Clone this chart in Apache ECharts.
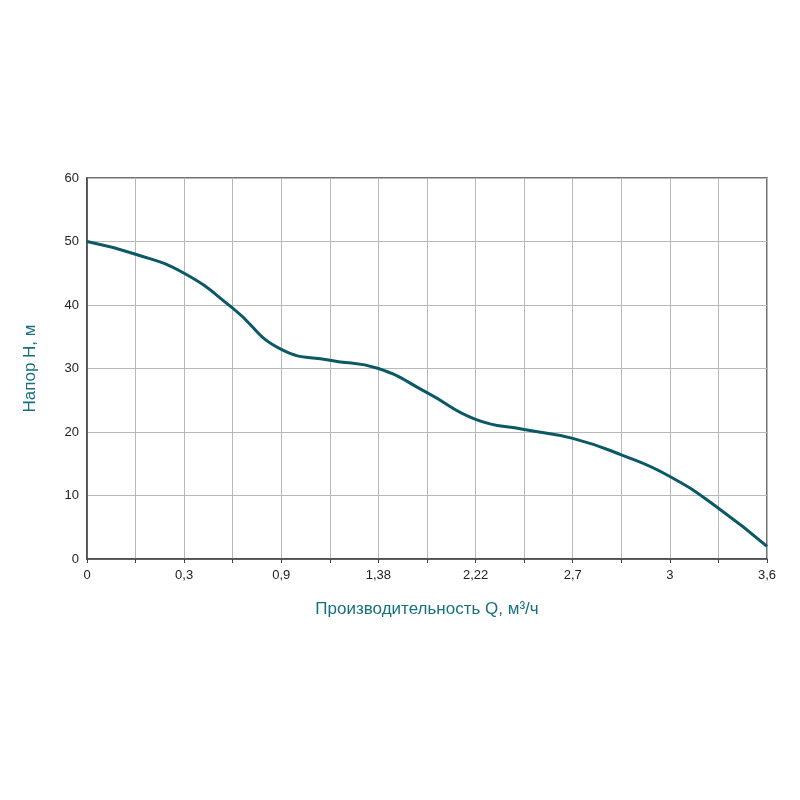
<!DOCTYPE html>
<html>
<head>
    <meta charset="utf-8">
    <title>ECharts</title>
    <script src="https://cdn.jsdelivr.net/npm/echarts@6/dist/echarts.min.js"></script>
</head>
<body style="margin:0">
    <div id="main" style="width:800px;height:800px;"></div>
    <script type="text/javascript">
        var myChart = echarts.init(document.getElementById('main'));

        // x positions are evenly spaced; labels shown on every second grid line
        var xLabels = ['0', '', '0,3', '', '0,9', '', '1,38', '', '2,22', '', '2,7', '', '3', '', '3,6'];
        var headValues = [50, 48, 45, 39.5, 33, 31.3, 30, 26.2, 22, 20.4, 19, 16.4, 13, 8, 2];

        var data = headValues.map(function (v, i) { return [i, v]; });

        option = {
            grid: { left: 87, right: 33, top: 178, bottom: 241, show: true, borderColor: '#444', borderWidth: 1.5 },
            xAxis: {
                type: 'value', min: 0, max: 14, interval: 1,
                name: 'Производительность Q, м³/ч',
                nameLocation: 'middle', nameGap: 42,
                nameTextStyle: { color: '#17707e', fontSize: 17, fontFamily: 'Arial' },
                axisLine: { lineStyle: { color: '#444', width: 1.5 } },
                axisTick: { show: true, length: 4, lineStyle: { color: '#444' } },
                axisLabel: {
                    color: '#222', fontSize: 13, margin: 10,
                    formatter: function (v) { return xLabels[v] || ''; }
                },
                splitLine: { lineStyle: { color: '#b8b8b8' } }
            },
            yAxis: {
                type: 'value', min: 0, max: 60, interval: 10,
                name: 'Напор H, м',
                nameLocation: 'middle', nameGap: 48,
                nameTextStyle: { color: '#17707e', fontSize: 17, fontFamily: 'Arial' },
                axisLine: { show: true, lineStyle: { color: '#444', width: 1.5 } },
                axisTick: { show: false },
                axisLabel: { color: '#222', fontSize: 13 },
                splitLine: { lineStyle: { color: '#b8b8b8' } }
            },
            series: [{
                type: 'line',
                data: data,
                smooth: 0.5,
                showSymbol: false,
                lineStyle: { color: '#0b5866', width: 3 }
            }]
        };
        myChart.setOption(option);
    </script>
</body>
</html>
